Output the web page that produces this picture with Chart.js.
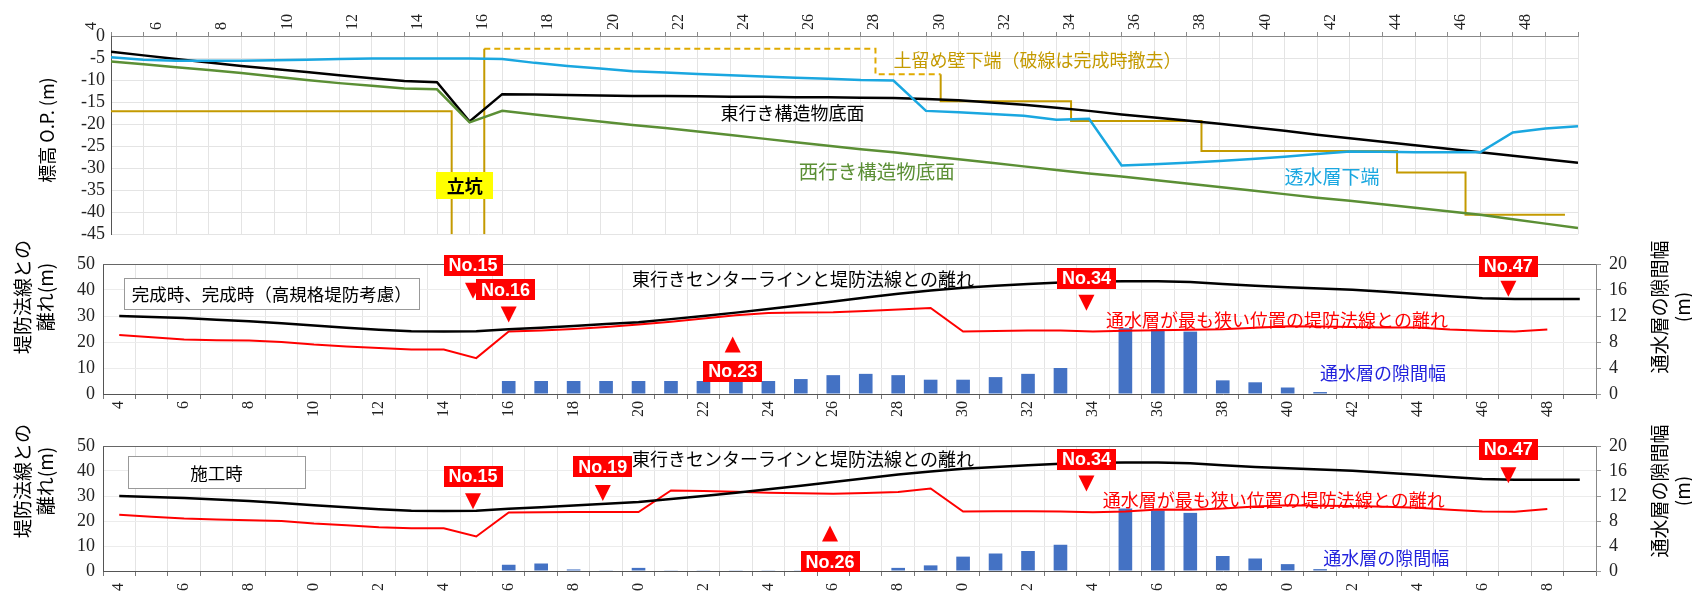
<!DOCTYPE html>
<html>
<head>
<meta charset="utf-8">
<script src="https://cdn.jsdelivr.net/npm/chart.js@4"></script>
<style>
  body { margin: 0; background: #fff; }
  .wrap { position: absolute; left: 0; width: 1692px; }
  canvas { display: block; }
</style>
</head>
<body>
<div class="wrap" style="top:0;height:251px"><canvas id="profile"></canvas></div>
<div class="wrap" style="top:240px;height:180px"><canvas id="finished"></canvas></div>
<div class="wrap" style="top:420px;height:171px"><canvas id="construction"></canvas></div>
<script>
Chart.defaults.animation = false;
Chart.defaults.responsive = true;
Chart.defaults.maintainAspectRatio = false;
Chart.defaults.plugins.legend.display = false;
Chart.defaults.plugins.tooltip.enabled = false;

const JP = '"Noto Sans CJK JP", "Noto Sans", sans-serif';
const SERIF = '"Liberation Serif", "DejaVu Serif", serif';

// station numbers No.4 ... No.49
const STATIONS = [4, 5, 6, 7, 8, 9, 10, 11, 12, 13, 14, 15, 16, 17, 18, 19, 20, 21, 22, 23, 24, 25, 26,
  27, 28, 29, 30, 31, 32, 33, 34, 35, 36, 37, 38, 39, 40, 41, 42, 43, 44, 45, 46, 47, 48, 49];

// top panel: elevations O.P. (m)
const EAST_BOTTOM = [-3.6, -4.4, -5.2, -6.0, -6.8, -7.5, -8.2, -8.9, -9.6, -10.2, -10.5, -19.4, -13.2,
  -13.3, -13.4, -13.5, -13.6, -13.6, -13.7, -13.8, -13.8, -13.9, -13.9, -14.0, -14.1, -14.3, -14.6,
  -15.1, -15.6, -16.3, -17.0, -17.8, -18.5, -19.2, -19.9, -20.7, -21.5, -22.4, -23.2, -24.0, -24.8,
  -25.6, -26.4, -27.2, -28.0, -28.8];
const WEST_BOTTOM = [-5.8, -6.4, -7.1, -7.7, -8.4, -9.2, -10.0, -10.7, -11.3, -11.9, -12.1, -19.6, -17.0,
  -17.8, -18.6, -19.4, -20.2, -20.9, -21.7, -22.5, -23.3, -24.1, -24.9, -25.7, -26.4, -27.2, -28.0,
  -28.8, -29.6, -30.4, -31.2, -31.9, -32.7, -33.5, -34.3, -35.1, -35.9, -36.7, -37.4, -38.2, -39.0,
  -39.8, -40.6, -41.6, -42.6, -43.6];
const AQUIFER_BOTTOM = [-4.8, -5.4, -5.6, -5.6, -5.6, -5.5, -5.4, -5.2, -5.1, -5.1, -5.1, -5.1, -5.2,
  -6.1, -6.8, -7.4, -8.0, -8.3, -8.6, -8.9, -9.2, -9.5, -9.7, -10.0, -10.1, -17.0, -17.3, -17.7,
  -18.1, -19.0, -18.8, -29.4, -29.1, -28.8, -28.4, -27.9, -27.4, -26.8, -26.2, -26.3, -26.4, -26.4,
  -26.4, -21.9, -21.0, -20.5];

// retaining wall toe (stepped), station / elevation pairs
const WALL_WEST_X = [4, 14.45, 14.45];
const WALL_WEST_Y = [-17.1, -17.1, -45];
const WALL_SHAFT_X = [15.45, 15.45];
const WALL_SHAFT_Y = [-45, -2.9];
const WALL_REMOVED_X = [15.45, 27.45, 27.45, 29.45];
const WALL_REMOVED_Y = [-2.9, -2.9, -8.7, -8.7];
const WALL_EAST_X = [29.45, 29.45, 33.45, 33.45, 37.45, 37.45, 43.45, 43.45, 45.55, 45.55, 48.6];
const WALL_EAST_Y = [-8.7, -14.8, -14.8, -19.3, -19.3, -26.1, -26.1, -31.0, -31.0, -40.6, -40.6];

// distance between east centre line and levee line (m)
const CENTER_DIST = [30.0, 29.6, 29.2, 28.6, 28.0, 27.2, 26.3, 25.5, 24.7, 24.1, 24.0, 24.1, 24.9,
  25.5, 26.2, 26.9, 27.6, 28.8, 30.0, 31.3, 32.7, 34.1, 35.6, 37.1, 38.6, 39.8, 40.9, 41.6, 42.3,
  42.9, 43.3, 43.4, 43.4, 43.1, 42.3, 41.6, 41.1, 40.6, 40.1, 39.3, 38.5, 37.6, 36.8, 36.5, 36.5, 36.5];

// distance at narrowest aquifer position (m)
const NARROW_DIST_FINISHED = [22.7, 21.8, 21.0, 20.7, 20.6, 20.0, 19.0, 18.3, 17.7, 17.1, 17.1, 13.8,
  24.0, 24.4, 25.0, 25.8, 26.7, 27.8, 29.0, 30.3, 31.2, 31.3, 31.4, 31.9, 32.5, 33.1, 24.0, 24.2,
  24.4, 24.4, 24.0, 24.3, 24.5, 24.7, 24.9, 25.5, 26.1, 26.0, 25.8, 25.6, 25.6, 24.8, 24.3, 24.0,
  24.8, null];
const NARROW_DIST_CONSTRUCTION = [22.5, 21.7, 21.0, 20.6, 20.3, 20.0, 19.0, 18.3, 17.5, 17.1, 17.1,
  13.8, 23.4, 23.5, 23.6, 23.6, 23.6, 32.2, 32.0, 31.7, 31.3, 31.1, 30.9, 31.2, 31.6, 33.0, 23.8,
  23.9, 23.9, 23.8, 23.5, 23.8, 24.6, 24.5, 25.0, 25.8, 26.3, 26.1, 26.0, 25.7, 25.3, 24.5, 23.8,
  23.7, 24.8, null];

// aquifer gap width (m), right axis
const GAP_FINISHED = [null, null, null, null, null, null, null, null, null, null, null, null, 2.0, 2.0,
  2.0, 2.0, 2.0, 2.0, 2.0, 2.0, 2.0, 2.3, 2.9, 3.1, 2.9, 2.2, 2.2, 2.6, 3.1, 4.0, 0, 10.1, 10.0, 9.6,
  2.1, 1.8, 1.0, 0.3, 0, 0, 0, 0, 0, 0, 0, 0];
const GAP_CONSTRUCTION = [null, null, null, null, null, null, null, null, null, null, null, null, 1.0,
  1.2, 0.25, 0.05, 0.5, 0.05, 0.05, 0.05, 0.05, 0.05, 0, 0, 0.5, 0.9, 2.3, 2.8, 3.2, 4.2, 0, 10.0,
  9.7, 9.3, 2.4, 2.0, 1.1, 0.3, 0, 0, 0, 0, 0, 0, 0, 0];

const pairs = (xs, ys) => xs.map((x, i) => ({ x: x, y: ys[i] }));

// text, boxes and markers placed in station / value units
const makeNotes = (notes) => ({
  id: "notes",
  afterDatasetsDraw(chart) {
    const c = chart.ctx;
    const xs = chart.scales.x;
    const ys = chart.scales.y;
    // category axis works on index, linear axis on station value
    const px = (s) => xs.getPixelForValue(xs.type === "category" ? s - STATIONS[0] : s);
    c.save();
    c.textBaseline = "middle";
    for (const t of notes.texts || []) {
      c.fillStyle = t.color;
      c.font = t.font || `18px ${JP}`;
      c.textAlign = "left";
      c.fillText(t.text, px(t.x), ys.getPixelForValue(t.y));
    }
    for (const m of notes.markers || []) {
      const x = px(m.x), y = ys.getPixelForValue(m.y);
      c.fillStyle = "#ff0000";
      c.beginPath();
      if (m.up) {
        c.moveTo(x, y - 8); c.lineTo(x + 8, y + 8); c.lineTo(x - 8, y + 8);
      } else {
        c.moveTo(x - 8, y - 8); c.lineTo(x + 8, y - 8); c.lineTo(x, y + 8);
      }
      c.closePath();
      c.fill();
    }
    for (const b of notes.boxes || []) {
      const x = px(b.x), y = ys.getPixelForValue(b.y);
      c.fillStyle = b.fill;
      c.fillRect(Math.round(x - b.w / 2), Math.round(y - b.h / 2), b.w, b.h);
      if (b.stroke) {
        c.strokeStyle = b.stroke;
        c.lineWidth = 1;
        c.strokeRect(Math.round(x - b.w / 2) + 0.5, Math.round(y - b.h / 2) + 0.5, b.w, b.h);
      }
      c.fillStyle = b.color;
      c.font = b.font;
      c.textAlign = "center";
      c.fillText(b.text, x, y + 1);
    }
    c.restore();
  },
  afterDraw(chart) {
    const c = chart.ctx;
    c.save();
    c.fillStyle = "#000";
    c.textAlign = "center";
    c.textBaseline = "middle";
    for (const t of notes.titles || []) {
      c.save();
      c.translate(t.x, t.y);
      c.rotate(-Math.PI / 2);
      c.font = t.font || `18px ${JP}`;
      t.lines.forEach((line, i) => c.fillText(line, 0, (i - (t.lines.length - 1) / 2) * 23));
      c.restore();
    }
    c.restore();
  },
});

const fixSize = (w, h) => (scale) => {
  if (w != null) scale.width = w;
  if (h != null) scale.height = h;
};

const tickFont = { family: SERIF, size: 18 };
const xTickFont = { family: SERIF, size: 16 };

const GOLD = "#c49a00";

// ---------- top: longitudinal profile ----------
new Chart(document.getElementById("profile"), {
  type: "line",
  data: {
    datasets: [
      { data: pairs(STATIONS, AQUIFER_BOTTOM), borderColor: "#1aa7e0", borderWidth: 2.5 },
      { data: pairs(STATIONS, WEST_BOTTOM), borderColor: "#5b8f35", borderWidth: 2.5 },
      { data: pairs(STATIONS, EAST_BOTTOM), borderColor: "#000000", borderWidth: 2.5 },
      { data: pairs(WALL_WEST_X, WALL_WEST_Y), borderColor: GOLD, borderWidth: 2 },
      { data: pairs(WALL_SHAFT_X, WALL_SHAFT_Y), borderColor: GOLD, borderWidth: 2 },
      { data: pairs(WALL_REMOVED_X, WALL_REMOVED_Y), borderColor: "#e0aa00", borderWidth: 2, borderDash: [6, 4] },
      { data: pairs(WALL_EAST_X, WALL_EAST_Y), borderColor: GOLD, borderWidth: 2 },
    ],
  },
  options: {
    layout: { padding: { left: 0, right: 114, top: 0, bottom: 0 } },
    elements: { point: { radius: 0 }, line: { tension: 0 } },
    scales: {
      x: {
        type: "linear",
        position: "top",
        min: 4,
        max: 49,
        afterFit: fixSize(null, 36),
        border: { color: "#888" },
        grid: { color: "#e4e4e4", tickColor: "#888", tickLength: 4 },
        ticks: {
          stepSize: 1,
          autoSkip: false,
          maxRotation: 90,
          minRotation: 90,
          color: "#222",
          font: xTickFont,
          padding: 2,
          callback: (v) => (v % 2 === 0 && v <= 48 ? v : ""),
        },
      },
      y: {
        min: -45,
        max: 0,
        afterFit: fixSize(111, null),
        border: { color: "#555" },
        grid: { color: "#e4e4e4", drawTicks: false },
        ticks: { stepSize: 5, autoSkip: false, color: "#222", font: tickFont, padding: 6 },
      },
    },
  },
  plugins: [
    makeNotes({
      boxes: [{ x: 14.85, y: -33.9, w: 57, h: 27, fill: "#ffff00", color: "#000", text: "立坑", font: `bold 18px ${JP}` }],
      texts: [
        { x: 28.0, y: -5.4, text: "土留め壁下端（破線は完成時撤去）", color: GOLD },
        { x: 22.7, y: -17.6, text: "東行き構造物底面", color: "#000" },
        { x: 25.1, y: -30.7, text: "西行き構造物底面", color: "#5b8f35", font: `19.5px ${JP}` },
        { x: 40.0, y: -31.9, text: "透水層下端", color: "#1aa7e0", font: `19px ${JP}` },
      ],
      titles: [{ x: 47, y: 130, lines: ["標高 O.P. (m)"] }],
    }),
  ],
});

// ---------- distance panels ----------
const frame = {
  id: "frame",
  beforeDatasetsDraw(chart) {
    const a = chart.chartArea;
    const c = chart.ctx;
    c.save();
    c.strokeStyle = "#666";
    c.lineWidth = 1;
    c.beginPath();
    c.moveTo(a.left, a.top + 0.5);
    c.lineTo(a.right, a.top + 0.5);
    c.stroke();
    c.restore();
  },
};

const distanceChart = (id, narrow, gap, top, axisHeight, labelPad, notes) =>
  new Chart(document.getElementById(id), {
    data: {
      labels: STATIONS.map(String),
      datasets: [
        { type: "line", data: CENTER_DIST, borderColor: "#000", borderWidth: 2.5, order: 1 },
        { type: "line", data: narrow, borderColor: "#ff0000", borderWidth: 2, order: 2 },
        {
          type: "bar",
          data: gap,
          yAxisID: "y2",
          backgroundColor: "#4472c4",
          barPercentage: 0.42,
          categoryPercentage: 1,
          order: 3,
        },
      ],
    },
    options: {
      layout: { padding: { left: 0, right: 0, top: top, bottom: 0 } },
      elements: { point: { radius: 0 }, line: { tension: 0 } },
      scales: {
        x: {
          type: "category",
          offset: true,
          afterFit: fixSize(null, axisHeight),
          border: { color: "#555" },
          grid: { offset: true, color: "#e4e4e4", tickColor: "#777", tickLength: 5 },
          ticks: {
            autoSkip: false,
            maxRotation: 90,
            minRotation: 90,
            color: "#222",
            font: xTickFont,
            padding: labelPad,
            callback: (v, i) => (STATIONS[i] % 2 === 0 ? STATIONS[i] : ""),
          },
        },
        y: {
          min: 0,
          max: 50,
          afterFit: fixSize(103, null),
          border: { color: "#555" },
          grid: { color: "#ececec", drawTicks: false },
          ticks: { stepSize: 10, autoSkip: false, color: "#222", font: tickFont, padding: 8 },
        },
        y2: {
          position: "right",
          min: 0,
          max: 20,
          afterFit: fixSize(96, null),
          border: { color: "#888" },
          grid: { drawOnChartArea: false, tickColor: "#999", tickLength: 5 },
          ticks: { stepSize: 4, autoSkip: false, color: "#222", font: tickFont, padding: 8 },
        },
      },
    },
    plugins: [makeNotes(notes), frame],
  });

const NO_FONT = `bold 18px "Liberation Sans Narrow", "Liberation Sans", sans-serif`;
const noBox = (x, y, text) => ({ x: x, y: y, w: 59, h: 21, fill: "#ff0000", color: "#fff", text: text, font: NO_FONT });
const TITLES = (y) => [
  { x: 34, y: y, lines: ["堤防法線との", "離れ(m)"], font: `19px ${JP}` },
  { x: 1671, y: y + 10, lines: ["通水層の隙間幅", "(m)"], font: `19px ${JP}` },
];

distanceChart("finished", NARROW_DIST_FINISHED, GAP_FINISHED, 24, 26, 2, {
  boxes: [
    { x: 8.7, y: 38.8, w: 295, h: 31, fill: "#fff", stroke: "#999", color: "#000", text: "完成時、完成時（高規格堤防考慮）", font: `17.5px ${JP}` },
    noBox(14.9, 49.6, "No.15"),
    noBox(15.9, 40.1, "No.16"),
    noBox(22.9, 8.7, "No.23"),
    noBox(33.8, 44.6, "No.34"),
    noBox(46.8, 49.2, "No.47"),
  ],
  texts: [
    { x: 19.8, y: 44.2, text: "東行きセンターラインと堤防法線との離れ", color: "#000" },
    { x: 34.4, y: 28.5, text: "通水層が最も狭い位置の堤防法線との離れ", color: "#ff0000" },
    { x: 41.0, y: 7.9, text: "通水層の隙間幅", color: "#2222dd" },
  ],
  markers: [
    { x: 14.9, y: 39.7 },
    { x: 16, y: 30.6 },
    { x: 22.9, y: 19.0, up: true },
    { x: 33.8, y: 35.1 },
    { x: 46.8, y: 40.5 },
  ],
  titles: TITLES(57),
});

distanceChart("construction", NARROW_DIST_CONSTRUCTION, GAP_CONSTRUCTION, 26, 20, 7, {
  boxes: [
    { x: 7.0, y: 39.6, w: 177, h: 32, fill: "#fff", stroke: "#999", color: "#000", text: "施工時", font: `17.5px ${JP}` },
    noBox(14.9, 37.9, "No.15"),
    noBox(18.9, 41.7, "No.19"),
    noBox(25.9, 3.75, "No.26"),
    noBox(33.8, 44.6, "No.34"),
    noBox(46.8, 48.75, "No.47"),
  ],
  texts: [
    { x: 19.8, y: 44.6, text: "東行きセンターラインと堤防法線との離れ", color: "#000" },
    { x: 34.3, y: 28.3, text: "通水層が最も狭い位置の堤防法線との離れ", color: "#ff0000" },
    { x: 41.1, y: 5.0, text: "通水層の隙間幅", color: "#2222dd" },
  ],
  markers: [
    { x: 14.9, y: 27.9 },
    { x: 18.9, y: 31.2 },
    { x: 25.9, y: 15.0, up: true },
    { x: 33.8, y: 35.0 },
    { x: 46.8, y: 38.3 },
  ],
  titles: TITLES(61),
});
</script>
</body>
</html>
